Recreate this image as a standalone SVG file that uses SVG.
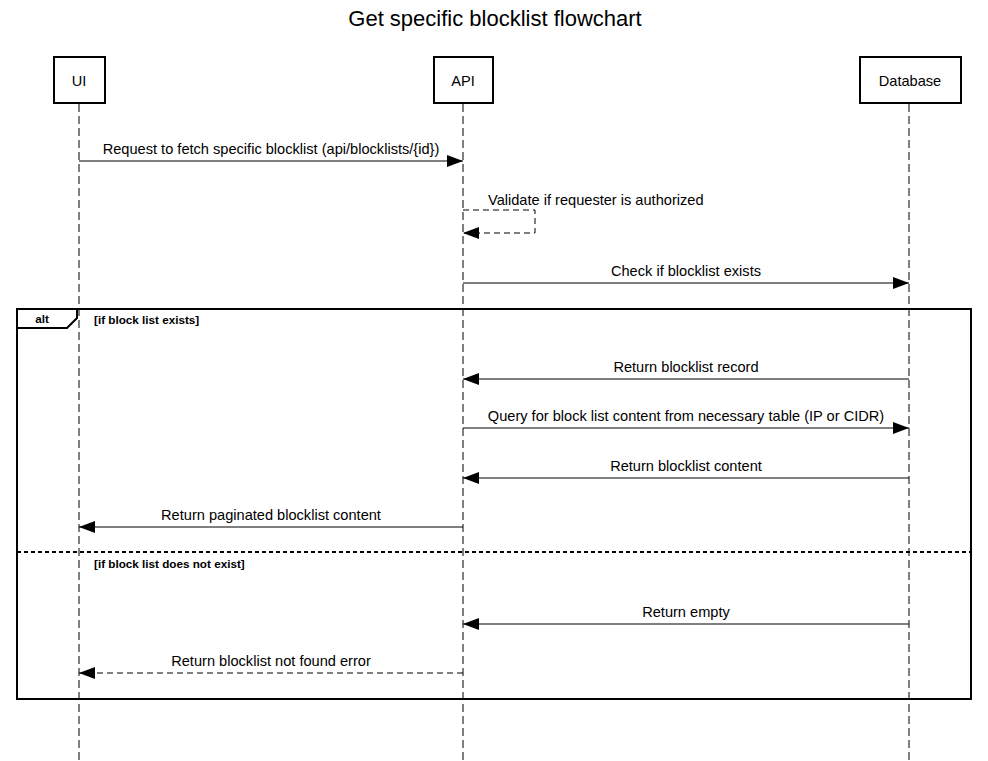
<svg xmlns="http://www.w3.org/2000/svg" width="988" height="761" viewBox="0 0 988 761">
<style>
text{font-family:"Liberation Sans",Arial,sans-serif;fill:#000}
.title{font-size:22px}
.lbl{font-size:14.6px}
.node rect{fill:#fff;stroke:#000;stroke-width:2}
.life{stroke:#000;stroke-width:1;stroke-dasharray:8 4;fill:none}
.msg{stroke:#000;stroke-width:1;fill:none}
.dash{stroke-dasharray:6 4}
.frame{fill:none;stroke:#000;stroke-width:2}
.cond{font-size:11.7px;font-weight:bold}
</style>
<defs>
<marker id="ah" viewBox="0 0 16 12" refX="16" refY="6" markerWidth="16" markerHeight="12" markerUnits="userSpaceOnUse" orient="auto">
<path d="M0,0 L16,6 L0,12 Z" fill="#000"/>
</marker>
</defs>
<rect width="988" height="761" fill="#fff"/>
<text class="title" x="495" y="26" text-anchor="middle">Get specific blocklist flowchart</text>

<g id="lifelines">
<line class="life" x1="79" y1="104" x2="79" y2="761"/>
<line class="life" x1="463" y1="104" x2="463" y2="761"/>
<line class="life" x1="909" y1="104" x2="909" y2="761"/>
</g>

<g id="ui" class="node"><rect x="54" y="57" width="51" height="46"/><text class="lbl" x="79" y="86" text-anchor="middle">UI</text></g>
<g id="api" class="node"><rect x="434" y="57" width="59" height="46"/><text class="lbl" x="463" y="86" text-anchor="middle">API</text></g>
<g id="db" class="node"><rect x="860" y="57" width="101" height="46"/><text class="lbl" x="910" y="86" text-anchor="middle">Database</text></g>

<g id="alt-frame">
<rect class="frame" x="17" y="309" width="954" height="390"/>
<path class="frame" d="M17,328 L67,328 L77,318 L77,309" stroke-width="1.5"/>
<text class="cond" x="42" y="323" text-anchor="middle">alt</text>
<text class="cond" x="94" y="324">[if block list exists]</text>
<line x1="17" y1="552" x2="971" y2="552" stroke="#000" stroke-width="2" stroke-dasharray="4 3"/>
<text class="cond" x="94" y="568">[if block list does not exist]</text>
</g>

<g id="connectors">
<line class="msg" x1="79" y1="161" x2="463" y2="161" marker-end="url(#ah)"/>
<text class="lbl" x="271" y="154" text-anchor="middle">Request to fetch specific blocklist (api/blocklists/{id})</text>

<path class="msg dash" d="M463,210 L535,210 L535,233 L463,233" marker-end="url(#ah)"/>
<text class="lbl" x="488" y="205">Validate if requester is authorized</text>

<line class="msg" x1="463" y1="283" x2="909" y2="283" marker-end="url(#ah)"/>
<text class="lbl" x="686" y="276" text-anchor="middle">Check if blocklist exists</text>

<line class="msg" x1="909" y1="379" x2="463" y2="379" marker-end="url(#ah)"/>
<text class="lbl" x="686" y="372" text-anchor="middle">Return blocklist record</text>

<line class="msg" x1="463" y1="428" x2="909" y2="428" marker-end="url(#ah)"/>
<text class="lbl" x="686" y="421" text-anchor="middle">Query for block list content from necessary table (IP or CIDR)</text>

<line class="msg" x1="909" y1="478" x2="463" y2="478" marker-end="url(#ah)"/>
<text class="lbl" x="686" y="471" text-anchor="middle">Return blocklist content</text>

<line class="msg" x1="463" y1="527" x2="79" y2="527" marker-end="url(#ah)"/>
<text class="lbl" x="271" y="520" text-anchor="middle">Return paginated blocklist content</text>

<line class="msg" x1="909" y1="624" x2="463" y2="624" marker-end="url(#ah)"/>
<text class="lbl" x="686" y="617" text-anchor="middle">Return empty</text>

<line class="msg dash" x1="463" y1="673" x2="79" y2="673" marker-end="url(#ah)"/>
<text class="lbl" x="271" y="666" text-anchor="middle">Return blocklist not found error</text>
</g>
</svg>
